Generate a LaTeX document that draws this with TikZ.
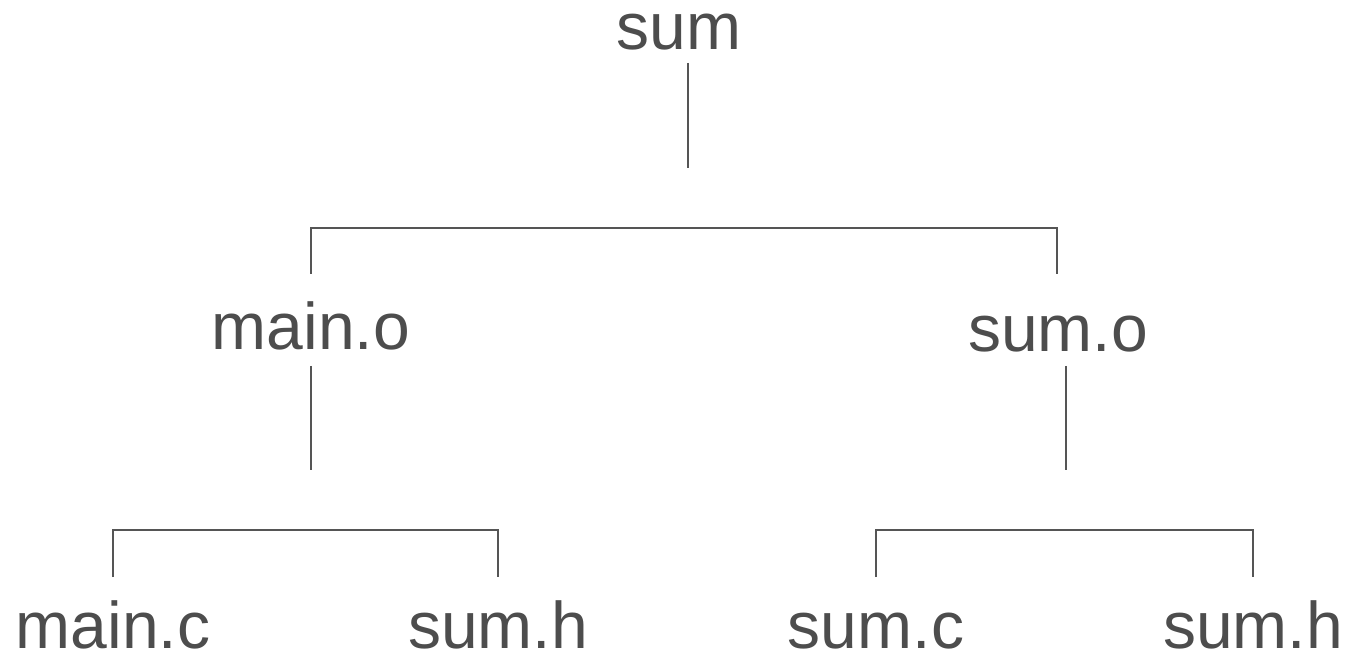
\documentclass[tikz,border=0pt]{standalone}
\usepackage{fontspec}
\setmainfont{Liberation Sans}
\definecolor{ink}{HTML}{4D4D4D}
\definecolor{wire}{HTML}{555555}
\begin{document}
\begin{tikzpicture}[x=1pt,y=-1pt,
  lbl/.style={anchor=base,inner sep=0pt,text=ink,font=\fontsize{66}{66}\selectfont},
  wireline/.style={draw=wire,line width=1.4pt}]
\useasboundingbox (0,0) rectangle (1350,660);
% labels
\node[lbl] (sum) at (679,50) {sum};
\node[lbl] (maino) at (311,350) {main.o};
\node[lbl] (sumo) at (1058,352) {sum.o};
\node[lbl] (mainc) at (113,648) {main.c};
\node[lbl] (sumh1) at (498,648) {sum.h};
\node[lbl] (sumc) at (876,648) {sum.c};
\node[lbl] (sumh2) at (1253,648) {sum.h};
% connector points
\coordinate (s1) at (688,63);
\coordinate (s2) at (688,168);
\coordinate (bl) at (311,274);
\coordinate (br) at (1057,274);
\coordinate (m1) at (311,366);
\coordinate (m2) at (311,470);
\coordinate (o1) at (1066,366);
\coordinate (o2) at (1066,470);
\coordinate (cl1) at (113,577);
\coordinate (cr1) at (498,577);
\coordinate (cl2) at (876,577);
\coordinate (cr2) at (1253,577);
% connectors
\draw[wireline] (s1) -- (s2);
\draw[wireline] (bl) -- (311,228) -- (1057,228) -- (br);
\draw[wireline] (m1) -- (m2);
\draw[wireline] (o1) -- (o2);
\draw[wireline] (cl1) -- (113,530) -- (498,530) -- (cr1);
\draw[wireline] (cl2) -- (876,530) -- (1253,530) -- (cr2);
\end{tikzpicture}
\end{document}
